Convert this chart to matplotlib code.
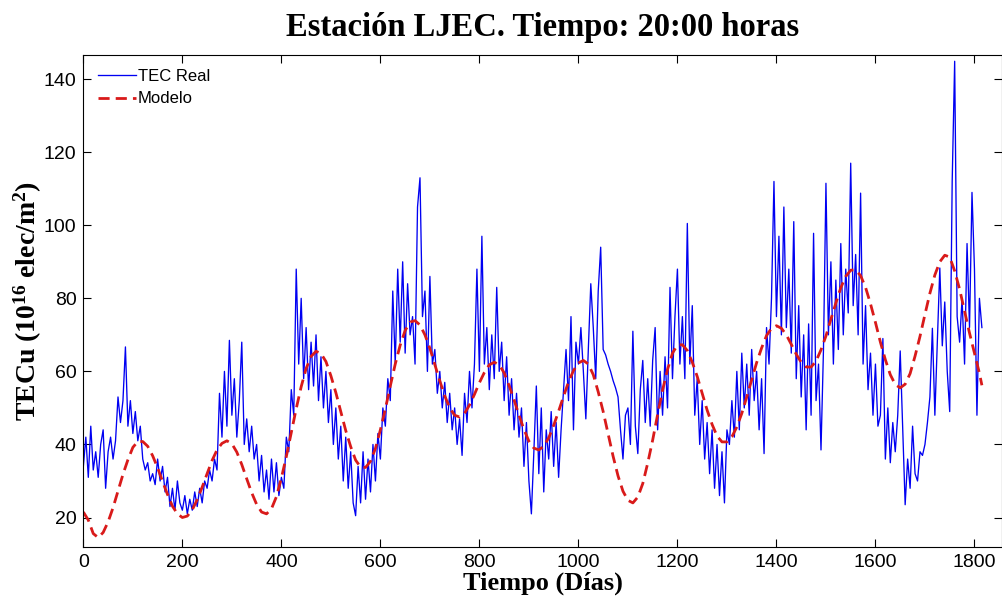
import numpy as np
import matplotlib
matplotlib.use("Agg")
import matplotlib.pyplot as plt

# ---- Data ----
step_real = 5  # days between samples of the observed series
tec_real = [
    34, 42, 31, 45, 33, 38, 31, 40, 44, 28,
    38, 42, 36, 41, 53, 46, 52, 66.7, 45, 52,
    43, 49, 41, 45, 36, 33, 35, 30, 32, 29,
    36, 30, 34, 27, 31, 23, 28, 22, 30, 24,
    22, 26, 21, 25, 22, 27, 23, 28, 24, 30,
    28, 33, 30, 36, 33, 54, 42, 60, 45, 68.5,
    48, 58, 42, 52, 68, 40, 47, 38, 45, 36,
    40, 30, 37, 27, 33, 25, 36, 27, 35, 26,
    31, 28, 42, 38, 55, 48, 88, 62, 80, 58,
    72, 55, 68, 56, 70, 52, 64, 50, 60, 46,
    55, 40, 50, 36, 45, 30, 42, 28, 38, 24,
    20.5, 34, 24, 38, 25, 36, 27, 40, 30, 43,
    36, 50, 45, 58, 52, 82, 62, 88, 68, 90,
    65, 84, 70, 75, 62, 105, 113, 75, 82, 60,
    86, 62, 66, 54, 60, 50, 57, 46, 54, 44,
    50, 40, 47, 37, 54, 46, 60, 50, 62, 88,
    60, 97, 62, 72, 55, 70, 58, 83, 60, 68,
    52, 64, 48, 58, 44, 54, 42, 50, 34, 46,
    30, 21, 38, 56, 32, 50, 27, 44, 36, 49,
    34, 46, 31, 44, 55, 66, 52, 75, 44, 68,
    62, 72, 60, 47, 66, 84, 72, 58, 82, 94,
    66, 64.5, 62, 60, 57.5, 55.5, 53, 44, 36, 48,
    50, 40, 71, 45, 37.5, 55, 63, 46, 58, 45,
    63, 72, 44, 60, 48, 64, 50, 83, 58, 75,
    88, 62, 75, 58, 100.5, 62, 78, 48, 58, 40,
    52, 36, 46, 32, 44, 28, 40, 26, 38, 24,
    44, 40, 52, 42, 60, 44, 65, 50, 62, 48,
    66, 52, 60, 44, 58, 37.5, 72, 62, 80, 112,
    75, 97, 70, 105, 72, 88, 65, 101, 58, 78,
    53, 70, 44, 73, 48, 97.8, 52, 62, 38.5, 66,
    111.5, 70, 90, 62, 85, 66, 95, 70, 88, 76,
    117, 78, 92, 70, 108.8, 62, 78, 55, 65, 48,
    62, 45, 48, 69, 36, 50, 35, 46, 38, 48,
    65.6, 45, 23.5, 36, 28, 45, 32, 30, 38, 37,
    40, 46, 53, 71.8, 48, 68, 88.3, 67, 79, 60,
    49, 112, 144.9, 75, 68, 80, 62, 95, 72, 109,
    88, 48, 80, 72,
]

model_days = [0, 10, 20, 30, 40, 50, 60, 70, 80, 90,
              100, 110, 120, 130, 140, 150, 160, 170, 180, 190,
              200, 210, 220, 230, 240, 250, 260, 270, 280, 290,
              300, 310, 320, 330, 340, 350, 360, 370, 380, 390,
              400, 410, 420, 430, 440, 450, 460, 470, 480, 490,
              500, 510, 520, 530, 540, 550, 560, 570, 580, 590,
              600, 610, 620, 630, 640, 650, 660, 670, 680, 690,
              700, 710, 720, 730, 740, 750, 760, 770, 780, 790,
              800, 810, 820, 830, 840, 850, 860, 870, 880, 890,
              900, 910, 920, 930, 940, 950, 960, 970, 980, 990,
              1000, 1010, 1020, 1030, 1040, 1050, 1060, 1070, 1080, 1090,
              1100, 1110, 1120, 1130, 1140, 1150, 1160, 1170, 1180, 1190,
              1200, 1210, 1220, 1230, 1240, 1250, 1260, 1270, 1280, 1290,
              1300, 1310, 1320, 1330, 1340, 1350, 1360, 1370, 1380, 1390,
              1400, 1410, 1420, 1430, 1440, 1450, 1460, 1470, 1480, 1490,
              1500, 1510, 1520, 1530, 1540, 1550, 1560, 1570, 1580, 1590,
              1600, 1610, 1620, 1630, 1640, 1650, 1660, 1670, 1680, 1690,
              1700, 1710, 1720, 1730, 1740, 1750, 1760, 1770, 1780, 1790,
              1800, 1810, 1815]
model_vals = [21.5, 19.3, 15.6, 14.5, 15.9, 18.8, 22.7, 27.3, 31.8, 35.8,
              39.2, 40.8, 40.8, 39.5, 36.9, 33.6, 29.9, 26.3, 23.1, 21.0,
              20.0, 20.4, 22.1, 24.9, 28.3, 32.0, 35.6, 38.5, 40.3, 41.0,
              40.2, 37.9, 34.5, 30.6, 26.8, 23.6, 21.5, 21.0, 22.4, 25.7,
              30.8, 36.7, 43.3, 49.8, 55.8, 60.8, 64.1, 65.5, 64.9, 62.7,
              58.8, 54.2, 49.0, 43.8, 39.4, 35.7, 33.8, 33.7, 35.4, 38.9,
              44.0, 49.7, 56.0, 62.0, 67.2, 71.2, 73.5, 73.9, 72.7, 70.0,
              66.3, 61.9, 57.4, 53.3, 50.0, 48.0, 47.5, 48.5, 50.8, 53.7,
              56.9, 59.7, 61.8, 62.5, 61.8, 59.6, 56.1, 52.2, 48.0, 44.1,
              40.9, 39.0, 38.5, 39.5, 41.8, 45.2, 49.1, 53.2, 57.1, 60.2,
              62.3, 63.0, 62.0, 59.1, 54.4, 49.0, 42.9, 36.8, 31.4, 27.2,
              24.7, 24.0, 25.6, 29.3, 34.9, 41.2, 48.2, 54.9, 60.5, 65.0,
              67.2, 67.3, 65.7, 62.5, 58.6, 54.0, 49.4, 45.5, 42.3, 40.7,
              40.7, 42.1, 44.8, 48.5, 53.0, 57.7, 62.4, 66.4, 69.8, 71.8,
              72.5, 71.8, 70.0, 67.4, 64.7, 62.5, 61.2, 61.2, 62.8, 65.9,
              69.7, 74.3, 78.7, 82.9, 86.0, 87.7, 87.8, 86.2, 83.0, 78.5,
              73.4, 68.0, 63.2, 59.1, 56.4, 55.5, 56.5, 59.4, 64.2, 69.6,
              75.6, 81.4, 86.4, 90.0, 91.8, 91.3, 87.5, 82.5, 76.5, 70.5,
              65.0, 59.5, 56.2]

x_ticks = [0, 200, 400, 600, 800, 1000, 1200, 1400, 1600, 1800]
y_ticks = [20, 40, 60, 80, 100, 120, 140]

title = "Estación LJEC. Tiempo: 20:00 horas"
xlabel = "Tiempo (Días)"
ylabel = r"TECu (10$^{16}$ elec/m$^{2}$)"
legend_labels = ["TEC Real", "Modelo"]

# ---- Styling ----
plt.rcParams['font.family'] = ['Liberation Sans', 'DejaVu Sans']
plt.rcParams['mathtext.fontset'] = 'custom'
plt.rcParams['mathtext.rm'] = 'Liberation Serif:bold'
plt.rcParams['mathtext.it'] = 'Liberation Serif:bold'
plt.rcParams['mathtext.bf'] = 'Liberation Serif:bold'
plt.rcParams['mathtext.default'] = 'rm'

fig = plt.figure(figsize=(10.03, 6.01), dpi=100)
ax = fig.add_axes([0.0831, 0.0903, 0.9156, 0.8187])

days_real = np.arange(len(tec_real)) * step_real
ax.plot(days_real, tec_real, color=(0.0, 0.0, 0.95), linewidth=0.95, label=legend_labels[0])
ax.plot(model_days, model_vals, color=(0.85, 0.1, 0.1), linewidth=2.0,
        linestyle=(0, (4, 2.2)), label=legend_labels[1])

ax.set_xlim(0, 1855)
ax.set_ylim(12, 146.7)
ax.set_xticks(x_ticks)
ax.set_yticks(y_ticks)
ax.tick_params(direction='in', length=6, width=0.8, top=True, right=True,
               labelsize=14, pad=5)
for sp in ax.spines.values():
    sp.set_linewidth(0.8)

serif = ['Liberation Serif', 'DejaVu Serif']
fig.text(0.541, 0.955, title, ha='center', va='center', fontsize=23.5,
         fontweight='bold', family=serif)
ax.set_xlabel(xlabel, fontsize=19, fontweight='bold', family=serif, labelpad=1)
ax.set_ylabel(ylabel, fontsize=20, fontweight='bold', family=serif, labelpad=0)

leg = ax.legend(loc='upper left', frameon=False, fontsize=12, handlelength=2.3,
                handletextpad=0.1, borderaxespad=0.45, labelspacing=0.45)

fig.savefig("out.png", dpi=100)
